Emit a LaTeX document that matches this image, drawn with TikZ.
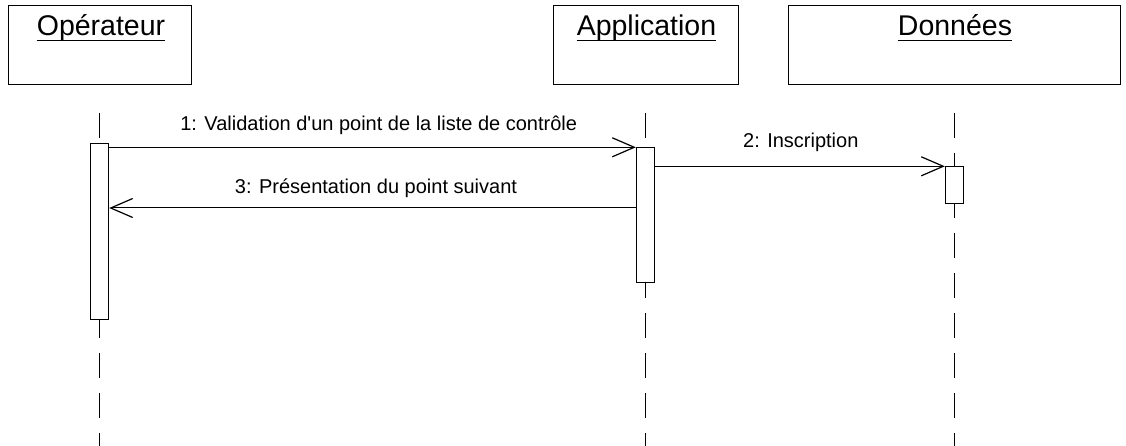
\documentclass[tikz,border=0pt]{standalone}
\usepackage{fontspec}
\setmainfont{Liberation Sans}[Ligatures=TeXOff]
\usetikzlibrary{arrows.meta}
\begin{document}
\begin{tikzpicture}[x=1pt,y=-1pt,
  objbox/.style={draw, line width=1.2pt, inner sep=0pt, anchor=north west},
  objname/.style={anchor=base, inner sep=0pt, font=\fontsize{28.5}{34}\selectfont},
  uline/.style={line width=1.3pt},
  lifeline/.style={line width=1pt, dash pattern=on 25pt off 15pt},
  act/.style={draw, fill=white, line width=1pt, inner sep=0pt, anchor=north, minimum width=18.4pt},
  msg/.style={line width=1pt, -{Straight Barb[length=22pt, width=19pt, line width=1.2pt]}},
  msglabel/.style={anchor=base, inner sep=0pt, font=\fontsize{20}{24}\selectfont}]
\useasboundingbox (0,0) rectangle (1126,446);

% object boxes
\node[objbox, minimum width=183pt, minimum height=79pt] (op) at (8,5) {};
\node[objbox, minimum width=185pt, minimum height=79pt] (app) at (553,5) {};
\node[objbox, minimum width=332pt, minimum height=79pt] (data) at (788,5) {};

\node[objname] (opName) at (101,36) {Opérateur};
\node[objname] (appName) at (646.5,36) {Application};
\node[objname] (dataName) at (955,36) {Données};
\foreach \n in {opName, appName, dataName}
  \draw[uline] ([yshift=-4.6pt]\n.base west) -- ([yshift=-4.6pt]\n.base east);

% lifelines
\coordinate (opTop) at (99.5,113);
\coordinate (opEnd) at (99.5,446);
\coordinate (appTop) at (645.5,113);
\coordinate (appEnd) at (645.5,446);
\coordinate (dataTop) at (954.5,113);
\coordinate (dataEnd) at (954.5,446);
\draw[lifeline] (opTop) -- (opEnd);
\draw[lifeline] (appTop) -- (appEnd);
\draw[lifeline] (dataTop) -- (dataEnd);

% activations
\node[act, minimum height=176.3pt] (opAct) at (99.5,142.7) {};
\node[act, minimum height=134.7pt] (appAct) at (645.5,147.3) {};
\node[act, minimum height=36.7pt] (dataAct) at (954.5,166.3) {};

% messages
\coordinate (ret) at (645.5,208);
\draw[msg] (opAct.east |- appAct.north) -- (appAct.north west);
\draw[msg] (appAct.east |- dataAct.north) -- (dataAct.north west);
\draw[msg] (appAct.west |- ret) -- (opAct.east |- ret);

\node[msglabel] (m1) at (378.7,131) {1: Validation d'un point de la liste de contrôle};
\node[msglabel] (m2) at (800.8,148) {2: Inscription};
\node[msglabel] (m3) at (376,194) {3: Présentation du point suivant};
\end{tikzpicture}
\end{document}
